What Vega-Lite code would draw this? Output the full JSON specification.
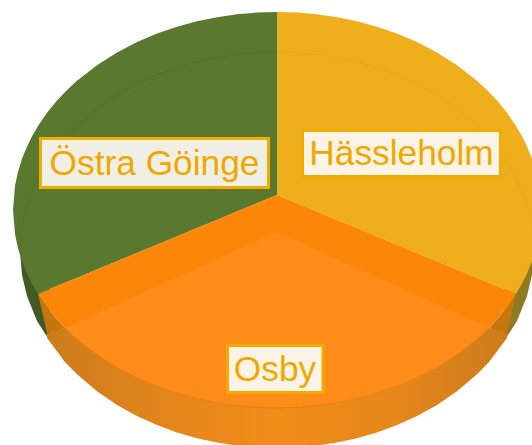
{"$schema":"https://vega.github.io/schema/vega-lite/v6.json","width":532,"height":445,"padding":0,"autosize":{"type":"none"},"background":"white","config":{"view":{"stroke":null}},
"datasets":{
"greenSide":[{"x":20,"y":250,"y2":250},{"x":22,"y":225,"y2":275},{"x":27,"y":204,"y2":296},{"x":37,"y":179,"y2":321},{"x":46,"y":165,"y2":335},{"x":50,"y":165,"y2":339}],
"yellowSide":[{"x":504,"y":165,"y2":339},{"x":508,"y":165,"y2":335},{"x":517,"y":179,"y2":321},{"x":527,"y":204,"y2":296},{"x":532,"y":225,"y2":275},{"x":534,"y":250,"y2":250}],
"osbySide":[{"x":47,"y":333,"y2":338},{"x":65,"y":328,"y2":362},{"x":77,"y":339.2,"y2":374.3},{"x":97,"y":354.8,"y2":391.3},{"x":117,"y":367.5,"y2":404.9},{"x":137,"y":377.9,"y2":416},{"x":157,"y":386.4,"y2":425.1},{"x":177,"y":393.2,"y2":432.4},{"x":197,"y":398.7,"y2":438.2},{"x":217,"y":402.8,"y2":442.5},{"x":237,"y":405.7,"y2":445.6},{"x":257,"y":407.4,"y2":447.4},{"x":277,"y":408,"y2":448},{"x":297,"y":407.4,"y2":447.4},{"x":317,"y":405.7,"y2":445.6},{"x":337,"y":402.8,"y2":442.5},{"x":357,"y":398.7,"y2":438.2},{"x":377,"y":393.2,"y2":432.4},{"x":397,"y":386.4,"y2":425.1},{"x":417,"y":377.9,"y2":416},{"x":437,"y":367.5,"y2":404.9},{"x":457,"y":354.8,"y2":391.3},{"x":477,"y":339.2,"y2":374.3},{"x":489,"y":328,"y2":362},{"x":507,"y":333,"y2":338}],
"cornerLeft":[{"x":38,"y":294,"y2":294},{"x":47,"y":307.2,"y2":333},{"x":57,"y":319.4,"y2":330.8},{"x":65,"y":328,"y2":328}],
"cornerRight":[{"x":489,"y":328,"y2":328},{"x":497,"y":319.4,"y2":330.8},{"x":507,"y":307.2,"y2":333},{"x":516,"y":294,"y2":294}],
"green":[{"x":13,"y":210,"y2":210},{"x":15,"y":185.7,"y2":234.3},{"x":18,"y":171.7,"y2":248.3},{"x":22,"y":158.7,"y2":261.3},{"x":27,"y":146.4,"y2":273.6},{"x":32,"y":136.2,"y2":283.8},{"x":38,"y":125.9,"y2":294},{"x":47,"y":112.8,"y2":290.3},{"x":57,"y":100.6,"y2":286.1},{"x":67,"y":90,"y2":282},{"x":77,"y":80.8,"y2":277.9},{"x":97,"y":65.2,"y2":269.6},{"x":117,"y":52.5,"y2":261.3},{"x":137,"y":42.1,"y2":253},{"x":157,"y":33.6,"y2":244.7},{"x":177,"y":26.8,"y2":236.4},{"x":197,"y":21.3,"y2":228.1},{"x":217,"y":17.2,"y2":219.9},{"x":237,"y":14.3,"y2":211.6},{"x":257,"y":12.6,"y2":203.3},{"x":277,"y":12,"y2":195}],
"yellow":[{"x":277,"y":12,"y2":195},{"x":297,"y":12.6,"y2":203.3},{"x":317,"y":14.3,"y2":211.6},{"x":337,"y":17.2,"y2":219.9},{"x":357,"y":21.3,"y2":228.1},{"x":377,"y":26.8,"y2":236.4},{"x":397,"y":33.6,"y2":244.7},{"x":417,"y":42.1,"y2":253},{"x":437,"y":52.5,"y2":261.3},{"x":457,"y":65.2,"y2":269.6},{"x":477,"y":80.8,"y2":277.9},{"x":487,"y":90,"y2":282},{"x":497,"y":100.6,"y2":286.1},{"x":507,"y":112.8,"y2":290.3},{"x":516,"y":125.9,"y2":294},{"x":522,"y":136.2,"y2":283.8},{"x":527,"y":146.4,"y2":273.6},{"x":532,"y":158.7,"y2":261.3},{"x":536,"y":171.7,"y2":248.3},{"x":539,"y":185.7,"y2":234.3},{"x":541,"y":210,"y2":210}],
"osbyBand":[{"x":38,"y":294,"y2":294},{"x":47,"y":290.3,"y2":307.2},{"x":57,"y":286.1,"y2":319.4},{"x":67,"y":282,"y2":330},{"x":77,"y":277.9,"y2":339.2},{"x":97,"y":269.6,"y2":354.8},{"x":117,"y":261.3,"y2":367.5},{"x":137,"y":253,"y2":377.9},{"x":157,"y":244.7,"y2":386.4},{"x":177,"y":236.4,"y2":393.2},{"x":197,"y":228.1,"y2":398.7},{"x":217,"y":219.9,"y2":402.8},{"x":237,"y":211.6,"y2":405.7},{"x":257,"y":203.3,"y2":407.4},{"x":277,"y":195,"y2":408},{"x":297,"y":203.3,"y2":407.4},{"x":317,"y":211.6,"y2":405.7},{"x":337,"y":219.9,"y2":402.8},{"x":357,"y":228.1,"y2":398.7},{"x":377,"y":236.4,"y2":393.2},{"x":397,"y":244.7,"y2":386.4},{"x":417,"y":253,"y2":377.9},{"x":437,"y":261.3,"y2":367.5},{"x":457,"y":269.6,"y2":354.8},{"x":477,"y":277.9,"y2":339.2},{"x":487,"y":282,"y2":330},{"x":497,"y":286.1,"y2":319.4},{"x":507,"y":290.3,"y2":307.2},{"x":516,"y":294,"y2":294}],
"osbyFace":[{"x":65,"y":328,"y2":328},{"x":67,"y":327,"y2":330},{"x":77,"y":322.6,"y2":339.2},{"x":97,"y":313.5,"y2":354.8},{"x":117,"y":304.4,"y2":367.5},{"x":137,"y":295.4,"y2":377.9},{"x":157,"y":286.3,"y2":386.4},{"x":177,"y":277.3,"y2":393.2},{"x":197,"y":268.2,"y2":398.7},{"x":217,"y":259.2,"y2":402.8},{"x":237,"y":250.1,"y2":405.7},{"x":257,"y":241.1,"y2":407.4},{"x":277,"y":232,"y2":408},{"x":297,"y":241.1,"y2":407.4},{"x":317,"y":250.1,"y2":405.7},{"x":337,"y":259.2,"y2":402.8},{"x":357,"y":268.2,"y2":398.7},{"x":377,"y":277.3,"y2":393.2},{"x":397,"y":286.3,"y2":386.4},{"x":417,"y":295.4,"y2":377.9},{"x":437,"y":304.4,"y2":367.5},{"x":457,"y":313.5,"y2":354.8},{"x":477,"y":322.6,"y2":339.2},{"x":487,"y":327,"y2":330},{"x":489,"y":328,"y2":328}],
"rimGreen":[{"x":20,"y":250},{"x":22,"y":225.3},{"x":27,"y":204.1},{"x":37,"y":179.2},{"x":47,"y":162},{"x":57,"y":147.7},{"x":77,"y":125.7},{"x":97,"y":108.7},{"x":117,"y":95.1},{"x":137,"y":84},{"x":157,"y":74.9},{"x":177,"y":67.6},{"x":197,"y":61.8},{"x":217,"y":57.5},{"x":237,"y":54.4},{"x":257,"y":52.6},{"x":277,"y":52}],
"rimYellow":[{"x":277,"y":52},{"x":297,"y":52.6},{"x":317,"y":54.4},{"x":337,"y":57.5},{"x":357,"y":61.8},{"x":377,"y":67.6},{"x":397,"y":74.9},{"x":417,"y":84},{"x":437,"y":95.1},{"x":457,"y":108.7},{"x":477,"y":125.7},{"x":497,"y":147.7},{"x":507,"y":162},{"x":517,"y":179.2},{"x":527,"y":204.1},{"x":532,"y":225.3},{"x":534,"y":250}],
"rimOsby":[{"x":65,"y":328},{"x":77,"y":339.2},{"x":97,"y":354.8},{"x":117,"y":367.5},{"x":137,"y":377.9},{"x":157,"y":386.4},{"x":177,"y":393.2},{"x":197,"y":398.7},{"x":217,"y":402.8},{"x":237,"y":405.7},{"x":257,"y":407.4},{"x":277,"y":408},{"x":297,"y":407.4},{"x":317,"y":405.7},{"x":337,"y":402.8},{"x":357,"y":398.7},{"x":377,"y":393.2},{"x":397,"y":386.4},{"x":417,"y":377.9},{"x":437,"y":367.5},{"x":457,"y":354.8},{"x":477,"y":339.2},{"x":489,"y":328}],
"labels":[
{"name":"Östra Göinge","x":40.5,"x2":268.5,"y":138.5,"y2":187.5,"cx":154.5,"base":175,"fillc":"#F0EFE6"},
{"name":"Hässleholm","x":302.5,"x2":500.5,"y":130.5,"y2":176.5,"cx":401.5,"base":165,"fillc":"#FBF4E6"},
{"name":"Osby","x":227.5,"x2":323,"y":345.5,"y2":392.5,"cx":275,"base":381,"fillc":"#FBF4E6"}]
},
"layer":[
{"data":{"name":"greenSide"},"mark":{"type":"area","color":"#3F5A24","clip":true},"encoding":{"x":{"field":"x","type":"quantitative","scale":{"domain":[0,532],"nice":false,"zero":false},"axis":null},"y":{"field":"y","type":"quantitative","scale":{"domain":[445,0],"nice":false,"zero":false},"axis":null},"y2":{"field":"y2"}}},
{"data":{"name":"yellowSide"},"mark":{"type":"area","color":"#8F7A24","clip":true},"encoding":{"x":{"field":"x","type":"quantitative","axis":null},"y":{"field":"y","type":"quantitative","axis":null},"y2":{"field":"y2"}}},
{"data":{"name":"osbySide"},"mark":{"type":"area","clip":true,"color":{"gradient":"linear","x1":0,"y1":0,"x2":1,"y2":0,"stops":[{"offset":0,"color":"#CC7C1C"},{"offset":0.3,"color":"#E6871B"},{"offset":0.5,"color":"#F18D19"},{"offset":0.75,"color":"#E6871B"},{"offset":1,"color":"#CC7C1C"}]}},"encoding":{"x":{"field":"x","type":"quantitative","axis":null},"y":{"field":"y","type":"quantitative","axis":null},"y2":{"field":"y2"}}},
{"data":{"name":"cornerLeft"},"mark":{"type":"area","color":"#C4780C","clip":true},"encoding":{"x":{"field":"x","type":"quantitative","axis":null},"y":{"field":"y","type":"quantitative","axis":null},"y2":{"field":"y2"}}},
{"data":{"name":"cornerRight"},"mark":{"type":"area","color":"#C4780C","clip":true},"encoding":{"x":{"field":"x","type":"quantitative","axis":null},"y":{"field":"y","type":"quantitative","axis":null},"y2":{"field":"y2"}}},
{"data":{"name":"green"},"mark":{"type":"area","color":"#5A792E","clip":true},"encoding":{"x":{"field":"x","type":"quantitative","axis":null},"y":{"field":"y","type":"quantitative","axis":null},"y2":{"field":"y2"}}},
{"data":{"name":"yellow"},"mark":{"type":"area","color":"#EFAE1B","clip":true},"encoding":{"x":{"field":"x","type":"quantitative","axis":null},"y":{"field":"y","type":"quantitative","axis":null},"y2":{"field":"y2"}}},
{"data":{"name":"osbyBand"},"mark":{"type":"area","color":"#FB8608","clip":true},"encoding":{"x":{"field":"x","type":"quantitative","axis":null},"y":{"field":"y","type":"quantitative","axis":null},"y2":{"field":"y2"}}},
{"data":{"name":"osbyFace"},"mark":{"type":"area","color":"#FD8C19","clip":true},"encoding":{"x":{"field":"x","type":"quantitative","axis":null},"y":{"field":"y","type":"quantitative","axis":null},"y2":{"field":"y2"}}},
{"data":{"name":"rimGreen"},"mark":{"type":"line","color":"#55742B","strokeWidth":1,"clip":true},"encoding":{"x":{"field":"x","type":"quantitative","axis":null},"y":{"field":"y","type":"quantitative","axis":null}}},
{"data":{"name":"rimYellow"},"mark":{"type":"line","color":"#EBAA1A","strokeWidth":1,"clip":true},"encoding":{"x":{"field":"x","type":"quantitative","axis":null},"y":{"field":"y","type":"quantitative","axis":null}}},
{"data":{"name":"rimOsby"},"mark":{"type":"line","color":"#E37F10","strokeWidth":1,"clip":true},"encoding":{"x":{"field":"x","type":"quantitative","axis":null},"y":{"field":"y","type":"quantitative","axis":null}}},
{"data":{"name":"labels"},"mark":{"type":"rect","color":"#5A3A00","opacity":0.14,"xOffset":3,"yOffset":5},"encoding":{"x":{"field":"x","type":"quantitative","axis":null},"x2":{"field":"x2"},"y":{"field":"y","type":"quantitative","axis":null},"y2":{"field":"y2"}}},
{"data":{"name":"labels"},"mark":{"type":"rect","stroke":"#F2AC00","strokeWidth":3},"encoding":{"x":{"field":"x","type":"quantitative","axis":null},"x2":{"field":"x2"},"y":{"field":"y","type":"quantitative","axis":null},"y2":{"field":"y2"},"fill":{"field":"fillc","type":"nominal","scale":null}}},
{"data":{"name":"labels"},"mark":{"type":"text","font":"Liberation Sans","fontSize":35.3,"color":"#F0A800","align":"center","baseline":"alphabetic"},"encoding":{"x":{"field":"cx","type":"quantitative","axis":null},"y":{"field":"base","type":"quantitative","axis":null},"text":{"field":"name","type":"nominal"}}}
]}
